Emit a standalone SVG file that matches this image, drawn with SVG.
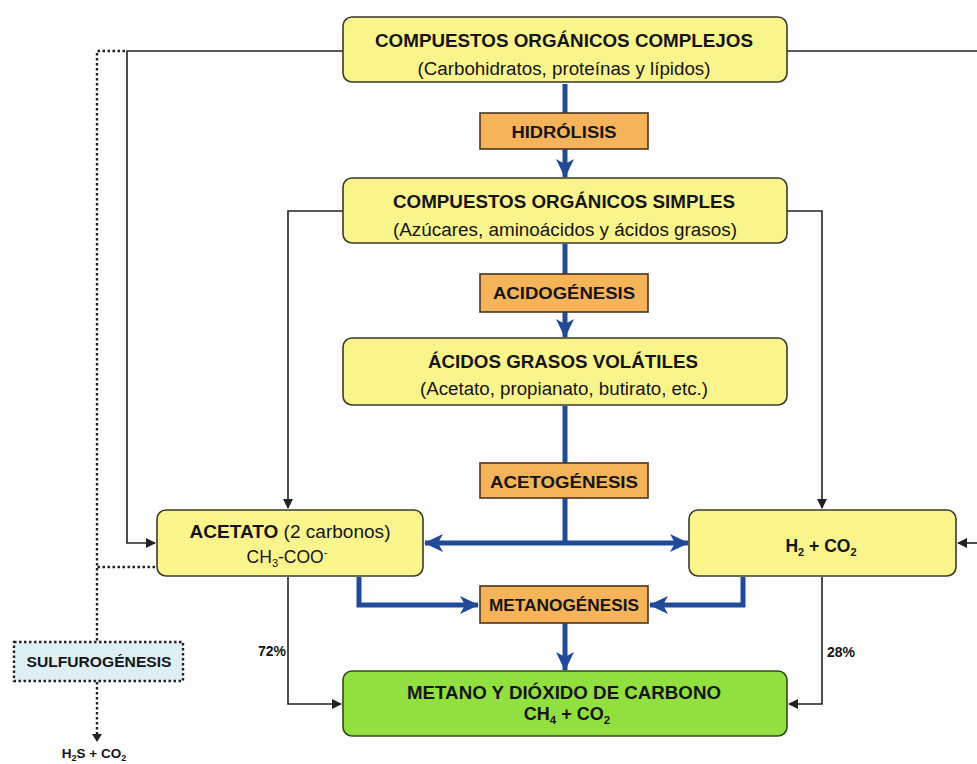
<svg xmlns="http://www.w3.org/2000/svg" width="977" height="764" viewBox="0 0 977 764">
<style>
.y{fill:#F9F48C;stroke:#3a3a2a;stroke-width:1.6}
.o{fill:#F5B35A;stroke:#4a3520;stroke-width:1.6}
.g{fill:#92E040;stroke:#2f4a1a;stroke-width:1.6}
.s{fill:#DDEFF5;stroke:#222;stroke-width:2.4;stroke-dasharray:2.5 2.5}
.t{font-family:"Liberation Sans",Arial,sans-serif;fill:#151515;text-anchor:middle}
.b{font-weight:bold}
.k{fill:none;stroke:#222;stroke-width:1.6}
.d{fill:none;stroke:#222;stroke-width:2.4;stroke-dasharray:2.5 2.5}
.bl{fill:none;stroke:#1F4B99;stroke-width:5}
</style>
<defs>
<marker id="ak" markerWidth="10" markerHeight="10" refX="9" refY="5" orient="auto" markerUnits="userSpaceOnUse"><path d="M0,0 L10,5 L0,10 Z" fill="#222"/></marker>
<marker id="ab" markerWidth="20" markerHeight="20" refX="18" refY="10" orient="auto" markerUnits="userSpaceOnUse"><path d="M0,1 L19,10 L0,19 L5,10 Z" fill="#1F4B99"/></marker>
</defs>
<rect width="977" height="764" fill="#fdfdfd"/>
<g id="connectors">
<polyline class="k" points="343,51 127,51 127,543 155,543" marker-end="url(#ak)"/>
<polyline class="k" points="787,51 977,51"/>
<line class="k" x1="977" y1="543" x2="958" y2="543" marker-end="url(#ak)"/>
<polyline class="k" points="343,211 288,211 288,508" marker-end="url(#ak)"/>
<polyline class="k" points="787,211 822,211 822,508" marker-end="url(#ak)"/>
<polyline class="k" points="288,577 288,704 341,704" marker-end="url(#ak)"/>
<polyline class="k" points="822,577 822,704 789,704" marker-end="url(#ak)"/>
<polyline class="d" points="125,51 97,51 97,642"/>
<line class="d" x1="155" y1="567" x2="97" y2="567"/>
<line class="d" x1="97" y1="682" x2="97" y2="738"/>
<path d="M92,734 L102,734 L97,742 Z" fill="#222"/>
<line class="bl" x1="565" y1="84" x2="565" y2="113"/>
<line class="bl" x1="565" y1="149" x2="565" y2="177" marker-end="url(#ab)"/>
<line class="bl" x1="565" y1="244" x2="565" y2="274"/>
<line class="bl" x1="565" y1="312" x2="565" y2="337" marker-end="url(#ab)"/>
<line class="bl" x1="565" y1="406" x2="565" y2="463"/>
<line class="bl" x1="565" y1="498" x2="565" y2="543"/>
<line class="bl" x1="565" y1="543" x2="425" y2="543" marker-end="url(#ab)"/>
<line class="bl" x1="565" y1="543" x2="688" y2="543" marker-end="url(#ab)"/>
<polyline class="bl" points="359,577 359,605 478,605" marker-end="url(#ab)"/>
<polyline class="bl" points="743,577 743,605 650,605" marker-end="url(#ab)"/>
<line class="bl" x1="565" y1="623" x2="565" y2="670" marker-end="url(#ab)"/>
</g>
<g id="complejos">
<rect class="y" x="343" y="17" width="444" height="65" rx="9"/>
<text class="t b" x="564" y="47" font-size="18" textLength="378" lengthAdjust="spacingAndGlyphs">COMPUESTOS ORGÁNICOS COMPLEJOS</text>
<text class="t" x="564" y="75" font-size="18" textLength="293" lengthAdjust="spacingAndGlyphs">(Carbohidratos, proteínas y lípidos)</text>
</g>
<g id="hidrolisis">
<rect class="o" x="480" y="113" width="168" height="36"/>
<text class="t b" x="564" y="138" font-size="16" textLength="105" lengthAdjust="spacingAndGlyphs">HIDRÓLISIS</text>
</g>
<g id="simples">
<rect class="y" x="343" y="178" width="444" height="65" rx="9"/>
<text class="t b" x="564" y="208" font-size="18" textLength="342" lengthAdjust="spacingAndGlyphs">COMPUESTOS ORGÁNICOS SIMPLES</text>
<text class="t" x="565" y="236" font-size="18" textLength="344" lengthAdjust="spacingAndGlyphs">(Azúcares, aminoácidos y ácidos grasos)</text>
</g>
<g id="acidogenesis">
<rect class="o" x="480" y="274" width="168" height="38"/>
<text class="t b" x="564" y="299" font-size="16" textLength="142" lengthAdjust="spacingAndGlyphs">ACIDOGÉNESIS</text>
</g>
<g id="agv">
<rect class="y" x="343" y="338" width="444" height="67" rx="9"/>
<text class="t b" x="563" y="368" font-size="18" textLength="270" lengthAdjust="spacingAndGlyphs">ÁCIDOS GRASOS VOLÁTILES</text>
<text class="t" x="564" y="395" font-size="18" textLength="288" lengthAdjust="spacingAndGlyphs">(Acetato, propianato, butirato, etc.)</text>
</g>
<g id="acetogenesis">
<rect class="o" x="480" y="463" width="168" height="35"/>
<text class="t b" x="564" y="488" font-size="16" textLength="148" lengthAdjust="spacingAndGlyphs">ACETOGÉNESIS</text>
</g>
<g id="acetato">
<rect class="y" x="157" y="510" width="266" height="66" rx="9"/>
<text class="t" x="290" y="538" font-size="17.5" textLength="201" lengthAdjust="spacingAndGlyphs"><tspan class="b">ACETATO</tspan> (2 carbonos)</text>
<text class="t" x="287" y="563" font-size="17.5">CH<tspan font-size="11" dy="4">3</tspan><tspan dy="-4">-COO</tspan><tspan font-size="11" dy="-7">-</tspan></text>
</g>
<g id="h2co2">
<rect class="y" x="689" y="510" width="267" height="66" rx="9"/>
<text class="t b" x="821" y="552" font-size="17.5">H<tspan font-size="11" dy="4">2</tspan><tspan dy="-4"> + CO</tspan><tspan font-size="11" dy="4">2</tspan></text>
</g>
<g id="metanogenesis">
<rect class="o" x="480" y="586" width="168" height="37"/>
<text class="t b" x="564" y="611" font-size="16" textLength="150" lengthAdjust="spacingAndGlyphs">METANOGÉNESIS</text>
</g>
<g id="metano">
<rect class="g" x="343" y="671" width="444" height="65" rx="9"/>
<text class="t b" x="564" y="699" font-size="17.5" textLength="314" lengthAdjust="spacingAndGlyphs">METANO Y DIÓXIDO DE CARBONO</text>
<text class="t b" x="567" y="720" font-size="18">CH<tspan font-size="11.5" dy="4">4</tspan><tspan dy="-4"> + CO</tspan><tspan font-size="11.5" dy="4">2</tspan></text>
</g>
<g id="sulfurogenesis">
<rect class="s" x="14" y="642" width="169" height="39"/>
<text class="t b" x="99" y="667" font-size="14" textLength="145" lengthAdjust="spacingAndGlyphs">SULFUROGÉNESIS</text>
</g>
<g id="labels">
<text class="t b" x="272" y="656" font-size="14">72%</text>
<text class="t b" x="841" y="657" font-size="14">28%</text>
<text class="t b" x="94" y="758" font-size="13.5">H<tspan font-size="9" dy="3">2</tspan><tspan dy="-3">S + CO</tspan><tspan font-size="9" dy="3">2</tspan></text>
</g>
</svg>
